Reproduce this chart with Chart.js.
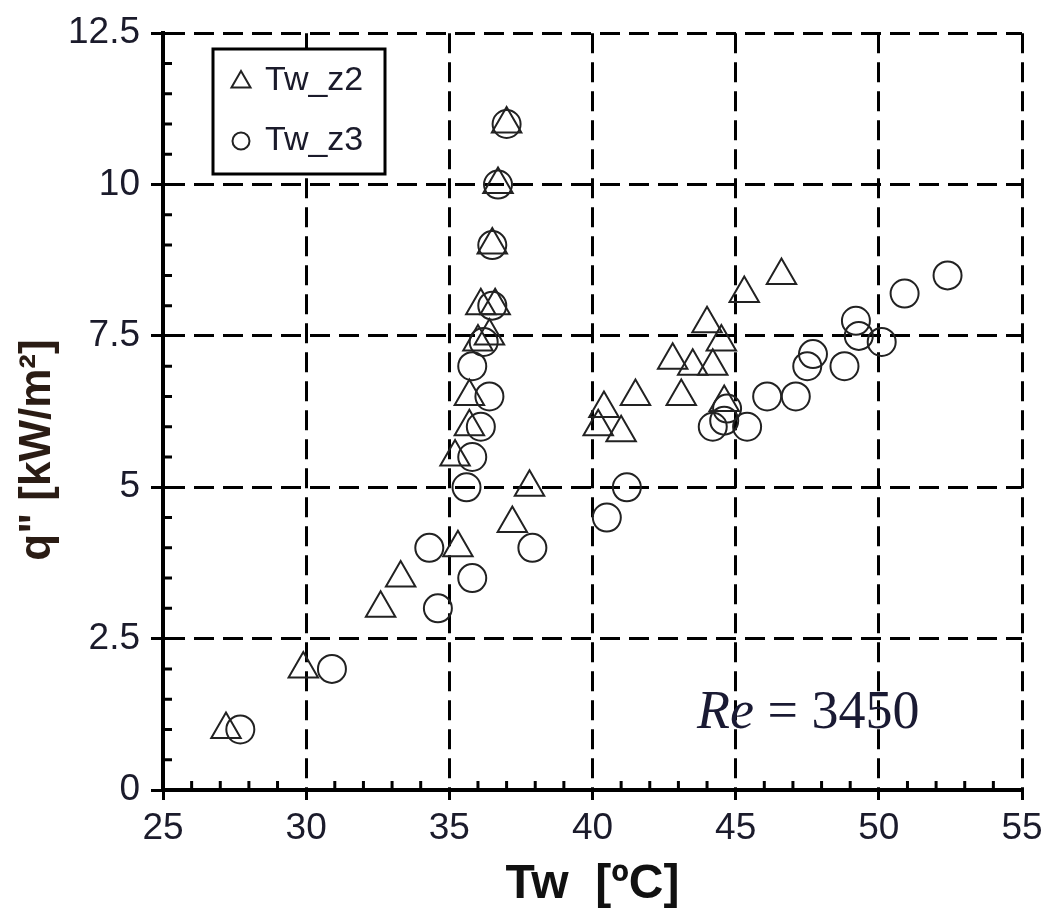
<!DOCTYPE html>
<html>
<head>
<meta charset="utf-8">
<script src="https://cdn.jsdelivr.net/npm/chart.js@4.4.1/dist/chart.umd.min.js"></script>
<style>
  html, body { margin: 0; padding: 0; background: #fff; }
</style>
</head>
<body>
<canvas id="chart" width="1050" height="917"></canvas>
<script>
// Values (Tw in degC, q" in kW/m2)
const seriesNames = ['Tw_z2', 'Tw_z3'];

const twZ2 = [27.2, 29.9, 32.6, 33.3, 35.3, 37.2, 37.8, 35.2, 35.7, 35.7, 36.0, 36.4, 36.1, 36.6, 36.5, 36.7, 37.0,
              40.2, 40.4, 41.0, 41.5, 42.8, 43.1, 43.5, 44.0, 44.2, 44.5, 44.6, 45.3, 46.6];
const qZ2  = [1.0, 2.0, 3.0, 3.5, 4.0, 4.4, 5.0, 5.5, 6.0, 6.5, 7.4, 7.5, 8.0, 8.0, 9.0, 10.0, 11.0,
              6.0, 6.3, 5.9, 6.5, 7.1, 6.5, 7.0, 7.7, 7.0, 7.4, 6.4, 8.2, 8.5];

const twZ3 = [27.7, 30.9, 34.6, 34.3, 35.8, 37.9, 35.6, 35.8, 36.1, 36.4, 35.8, 36.2, 36.5, 36.5, 36.7, 37.0,
              40.5, 41.2, 44.2, 44.6, 44.7, 45.4, 46.1, 47.1, 47.5, 47.7, 48.8, 49.2, 49.3, 50.1, 50.9, 52.4];
const qZ3  = [1.0, 2.0, 3.0, 4.0, 3.5, 4.0, 5.0, 5.5, 6.0, 6.5, 7.0, 7.4, 8.0, 9.0, 10.0, 11.0,
              4.5, 5.0, 6.0, 6.1, 6.3, 6.0, 6.5, 6.5, 7.0, 7.2, 7.0, 7.75, 7.5, 7.4, 8.2, 8.5];

const xMin = 25, xMax = 55, xStep = 5, xMinor = 1;
const yMin = 0, yMax = 12.5, yStep = 2.5, yMinor = 0.5;
const reText = ['Re', ' = 3450'];

const ink = '#1b1b2b';

function toPoints(xs, ys) {
  return xs.map((x, i) => ({ x: x, y: ys[i] }));
}

// Small inward ticks between the labelled ones
const minorTicks = {
  id: 'minorTicks',
  beforeDatasetsDraw(chart) {
    const { ctx, chartArea, scales } = chart;
    ctx.save();
    ctx.strokeStyle = '#000';
    ctx.lineWidth = 3;
    ctx.beginPath();
    const nx = Math.round((xMax - xMin) / xMinor);
    for (let i = 1; i < nx; i++) {
      const v = xMin + i * xMinor;
      if (Math.abs(v / xStep - Math.round(v / xStep)) < 1e-6) continue;
      const px = scales.x.getPixelForValue(v);
      ctx.moveTo(px, chartArea.bottom);
      ctx.lineTo(px, chartArea.bottom - 9);
    }
    const ny = Math.round((yMax - yMin) / yMinor);
    for (let i = 1; i < ny; i++) {
      const v = yMin + i * yMinor;
      if (Math.abs(v / yStep - Math.round(v / yStep)) < 1e-6) continue;
      const py = scales.y.getPixelForValue(v);
      ctx.moveTo(chartArea.left, py);
      ctx.lineTo(chartArea.left + 9, py);
    }
    ctx.stroke();
    ctx.restore();
  }
};

// Boxed legend, y title and the Re note
const annotations = {
  id: 'annotations',
  afterDraw(chart) {
    const ctx = chart.ctx;
    ctx.save();

    // legend box (white, hides the grid behind it)
    ctx.fillStyle = '#fff';
    ctx.fillRect(213, 49, 172, 125);
    ctx.strokeStyle = '#000';
    ctx.lineWidth = 3;
    ctx.strokeRect(213, 49, 172, 125);

    ctx.lineWidth = 2;
    ctx.strokeStyle = '#222';
    // triangle marker
    const tx = 241, ty = 82, tr = 11;
    ctx.beginPath();
    ctx.moveTo(tx, ty - tr);
    ctx.lineTo(tx + tr * 0.866, ty + tr * 0.5);
    ctx.lineTo(tx - tr * 0.866, ty + tr * 0.5);
    ctx.closePath();
    ctx.stroke();
    // circle marker
    ctx.beginPath();
    ctx.arc(241, 141, 8.5, 0, Math.PI * 2);
    ctx.stroke();

    ctx.fillStyle = ink;
    ctx.font = '34px "Liberation Sans", Arial, sans-serif';
    ctx.textAlign = 'left';
    ctx.textBaseline = 'middle';
    ctx.fillText(seriesNames[0], 265, 81);
    ctx.fillText(seriesNames[1], 265, 141);

    // y axis title
    ctx.save();
    ctx.translate(38, 450);
    ctx.rotate(-Math.PI / 2);
    ctx.textAlign = 'center';
    ctx.textBaseline = 'middle';
    ctx.font = 'bold 44px "Liberation Sans", Arial, sans-serif';
    ctx.fillStyle = '#2a1c14';
    ctx.fillText('q" [kW/m²]', 0, 0);
    ctx.restore();

    // Re = 3450
    ctx.textBaseline = 'alphabetic';
    ctx.fillStyle = '#1a1a33';
    ctx.font = 'italic 54px "Liberation Serif", "Times New Roman", serif';
    ctx.fillText(reText[0], 697, 728);
    const w = ctx.measureText(reText[0]).width;
    ctx.font = '54px "Liberation Serif", "Times New Roman", serif';
    ctx.fillText(reText[1], 697 + w, 728);

    ctx.restore();
  }
};

const gridStyle = {
  color: '#000',
  lineWidth: 3,
  drawTicks: true,
  tickColor: '#000',
  tickWidth: 3
};

new Chart(document.getElementById('chart'), {
  type: 'scatter',
  data: {
    datasets: [
      {
        label: seriesNames[0],
        data: toPoints(twZ2, qZ2),
        pointStyle: 'triangle',
        pointRadius: 17,
        pointHoverRadius: 17,
        pointBorderWidth: 2,
        borderColor: '#222',
        backgroundColor: 'rgba(0,0,0,0)'
      },
      {
        label: seriesNames[1],
        data: toPoints(twZ3, qZ3),
        pointStyle: 'circle',
        pointRadius: 14,
        pointHoverRadius: 14,
        pointBorderWidth: 2,
        borderColor: '#222',
        backgroundColor: 'rgba(0,0,0,0)'
      }
    ]
  },
  options: {
    responsive: false,
    animation: false,
    devicePixelRatio: 1,
    layout: { padding: { top: 32, right: 28, left: 0, bottom: 0 } },
    plugins: {
      legend: { display: false },
      tooltip: { enabled: false }
    },
    scales: {
      x: {
        type: 'linear',
        min: xMin,
        max: xMax,
        afterFit: (scale) => { scale.height = 127; },
        ticks: {
          stepSize: xStep,
          color: ink,
          padding: 7,
          font: { family: '"Liberation Sans", Arial, sans-serif', size: 37 }
        },
        grid: Object.assign({}, gridStyle, { tickLength: 10 }),
        border: { color: '#000', width: 4, dash: [20, 9] },
        title: {
          display: true,
          text: 'Tw  [ºC]',
          color: '#111',
          padding: { top: 0, bottom: 3 },
          font: { family: '"Liberation Sans", Arial, sans-serif', size: 48, weight: 'bold' }
        }
      },
      y: {
        type: 'linear',
        min: yMin,
        max: yMax,
        afterFit: (scale) => { scale.width = 163; },
        ticks: {
          stepSize: yStep,
          color: ink,
          padding: 11,
          font: { family: '"Liberation Sans", Arial, sans-serif', size: 37 }
        },
        grid: Object.assign({}, gridStyle, { tickLength: 12 }),
        border: { color: '#000', width: 4, dash: [20, 9] }
      }
    }
  },
  plugins: [minorTicks, annotations]
});
</script>
</body>
</html>
